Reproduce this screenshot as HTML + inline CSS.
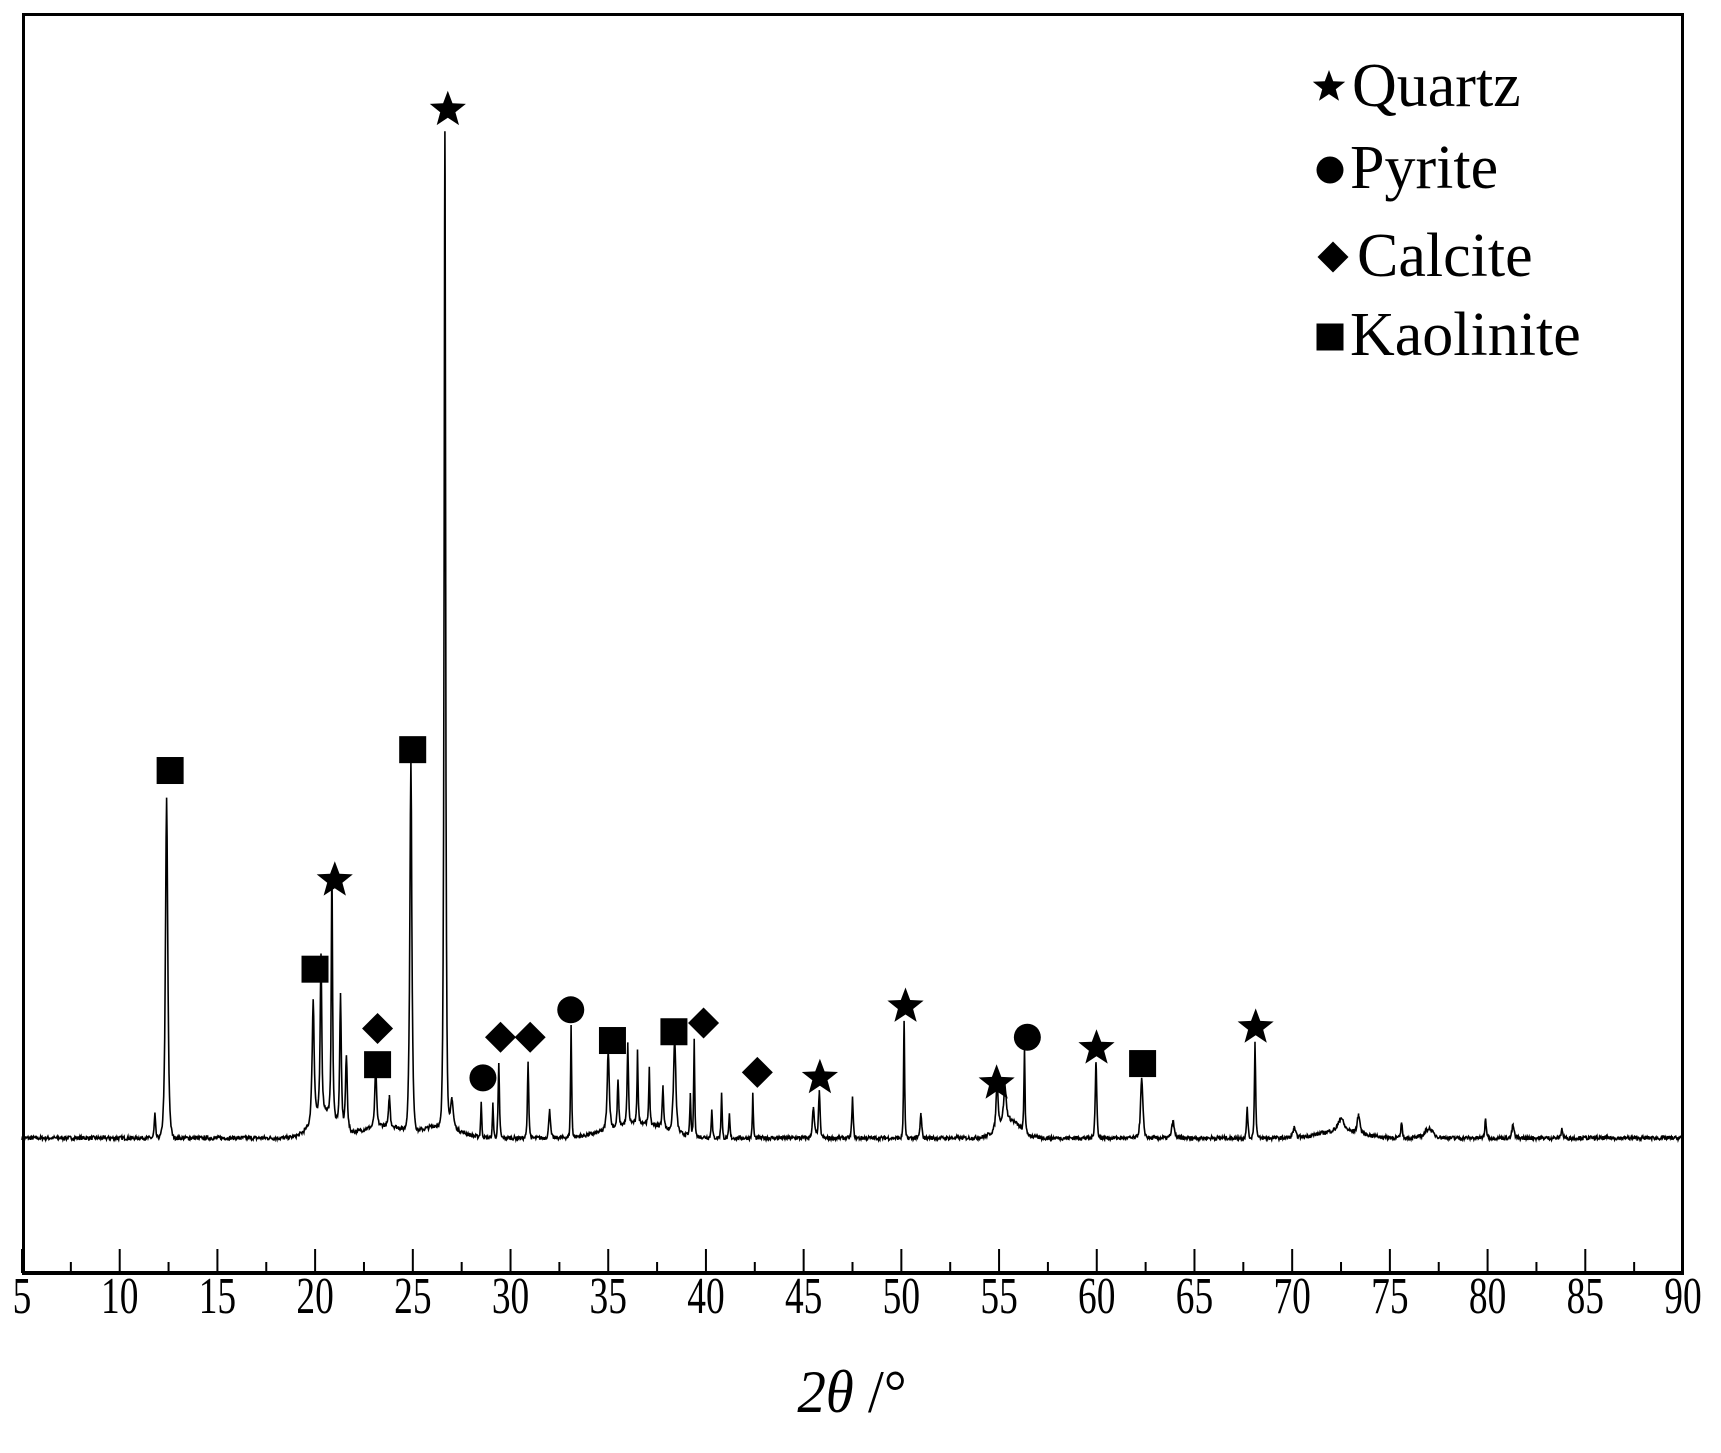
<!DOCTYPE html>
<html><head><meta charset="utf-8"><style>
html,body{margin:0;padding:0;background:#fff;}
svg{display:block;}
text{font-family:"Liberation Serif",serif;fill:#000;}
</style></head><body>
<svg id="s" width="1721" height="1453" viewBox="0 0 1721 1453" xmlns="http://www.w3.org/2000/svg">
<rect x="0" y="0" width="1721" height="1453" fill="#fff"/>
<g id="ticks"></g>
<path id="curve" d="" fill="none" stroke="#000" stroke-width="1.6"/>
<g id="marks"></g>
<rect x="23.5" y="14.5" width="1659" height="1258" fill="none" stroke="#000" stroke-width="3"/>
<line x1="22" y1="1273" x2="1684" y2="1273" stroke="#000" stroke-width="4"/>
<g id="labels" font-size="52" text-anchor="middle"></g>
<g transform="translate(852,1412) scale(0.95,1)"><text x="0" y="0" font-size="60" text-anchor="middle" font-style="italic">2<tspan>θ</tspan><tspan font-style="normal"> /°</tspan></text></g>
<g font-size="62">
<text x="1352" y="106">Quartz</text>
<text x="1350" y="188">Pyrite</text>
<text x="1357" y="276">Calcite</text>
<text x="1350" y="355">Kaolinite</text>
</g>
<g id="leg"></g>
</svg>
<script>
var S=1.0976;
function X(d){return 22+(d-5)*1661/85;}
var base=1138;
var ns="http://www.w3.org/2000/svg";
function el(p,t,a){var e=document.createElementNS(ns,t);for(var k in a)e.setAttribute(k,a[k]);p.appendChild(e);return e;}
var tk=document.getElementById('ticks'),lb=document.getElementById('labels');
for(var d=5;d<=90;d+=2.5){var maj=(d%5==0);el(tk,'line',{x1:X(d),x2:X(d),y1:maj?1249:1262,y2:1273,stroke:'#000','stroke-width':2});}
for(var d=5;d<=90;d+=5){var t=el(lb,'text',{x:0,y:0,transform:'translate('+X(d)+',1313) scale(0.72,1)'});t.textContent=d;}
var peaks=[[12.4,728,0.09],[11.8,1015,0.05],[19.9,928,0.08],[20.3,895,0.06],[20.86,815,0.05],[21.3,920,0.06],[21.6,970,0.07],[23.1,985,0.07],[23.8,1010,0.06],[24.9,700,0.08],[26.64,130,0.06],[27.0,1010,0.1],[28.5,1005,0.04],[29.1,1005,0.04],[29.4,970,0.05],[30.9,968,0.05],[32.0,1010,0.06],[33.1,935,0.04],[35.0,965,0.08],[35.5,995,0.05],[36.0,965,0.05],[36.5,970,0.04],[37.1,985,0.04],[37.8,1000,0.06],[38.4,952,0.09],[39.2,1000,0.04],[39.4,950,0.04],[40.3,1010,0.04],[40.8,995,0.04],[41.2,1015,0.04],[42.4,997,0.04],[45.5,1010,0.08],[45.8,995,0.06],[47.5,1000,0.05],[50.14,930,0.04],[51.0,1015,0.06],[54.9,995,0.08],[55.3,1005,0.1],[56.3,960,0.04],[59.96,968,0.06],[62.3,983,0.09],[63.9,1022,0.1],[67.7,1008,0.05],[68.1,950,0.05],[70.1,1028,0.1],[72.5,1025,0.2],[73.4,1020,0.1],[75.6,1022,0.05],[77,1028,0.3],[79.9,1020,0.06],[81.3,1025,0.08],[83.8,1028,0.06]];
var humps=[[20.5,1010,0.9],[23.5,1025,1.5],[26.5,1025,1.2],[36.5,1022,2],[55.5,1020,0.8],[72.5,1030,1.5]];
var seed=7;function rnd(){seed=(seed*16807)%2147483647;return seed/2147483647;}
var xs=[];for(var d=5;d<=90.001;d+=0.025)xs.push(d);
peaks.forEach(function(p){xs.push(p[0]);});
xs.sort(function(a,b){return a-b;});
var dpath="";
xs.forEach(function(d){
 var h=0;
 for(var i=0;i<peaks.length;i++){var p=peaks[i];var a=base-p[1]*S;var z=(d-p[0])/p[2];h+=a/(1+z*z*1.5)*Math.exp(-z*z*0.15);}
 for(var i=0;i<humps.length;i++){var p=humps[i];var a=base-p[1]*S;var z=(d-p[0])/p[2];h+=a*Math.exp(-z*z);}
 h+=(rnd()-0.5)*4;
 var y=base-h; var x=X(d);
 dpath+=(dpath?"L":"M")+x.toFixed(1)+" "+y.toFixed(1);
});
document.getElementById('curve').setAttribute('d',dpath);
var mk=document.getElementById('marks');
function star(p,cx,cy,r){var pts=[];for(var i=0;i<10;i++){var rr=i%2?r*0.42:r;var a=-Math.PI/2+i*Math.PI/5;pts.push((cx+rr*Math.cos(a)).toFixed(1)+","+(cy+rr*Math.sin(a)).toFixed(1));}el(p,'polygon',{points:pts.join(" "),fill:'#000'});}
function circ(p,cx,cy){el(p,'circle',{cx:cx,cy:cy,r:13.5,fill:'#000'});}
function dia(p,cx,cy){var r=15.5;el(p,'polygon',{points:[cx,cy-r,cx+r,cy,cx,cy+r,cx-r,cy].join(" "),fill:'#000'});}
function sq(p,cx,cy){el(p,'rect',{x:cx-13.5,y:cy-13.5,width:27,height:27,fill:'#000'});}
[[408,100],[305,802],[747,982],[825,917],[908,987],[999,955],[1144,936]].forEach(function(q){star(mk,q[0]*S,q[1]*S,19);});
[[440,982],[520,920],[936,945]].forEach(function(q){circ(mk,q[0]*S,q[1]*S);});
[[344,937],[456,945],[483,945],[641,932],[690,977]].forEach(function(q){dia(mk,q[0]*S,q[1]*S);});
[[155,702],[287,883],[344,970],[376,683],[558,948],[614,940],[1041,969]].forEach(function(q){sq(mk,q[0]*S,q[1]*S);});
var lg=document.getElementById('leg');
star(lg,1329,87,17);circ(lg,1330,170);dia(lg,1333,257);sq(lg,1330,337);
</script>
</body></html>
